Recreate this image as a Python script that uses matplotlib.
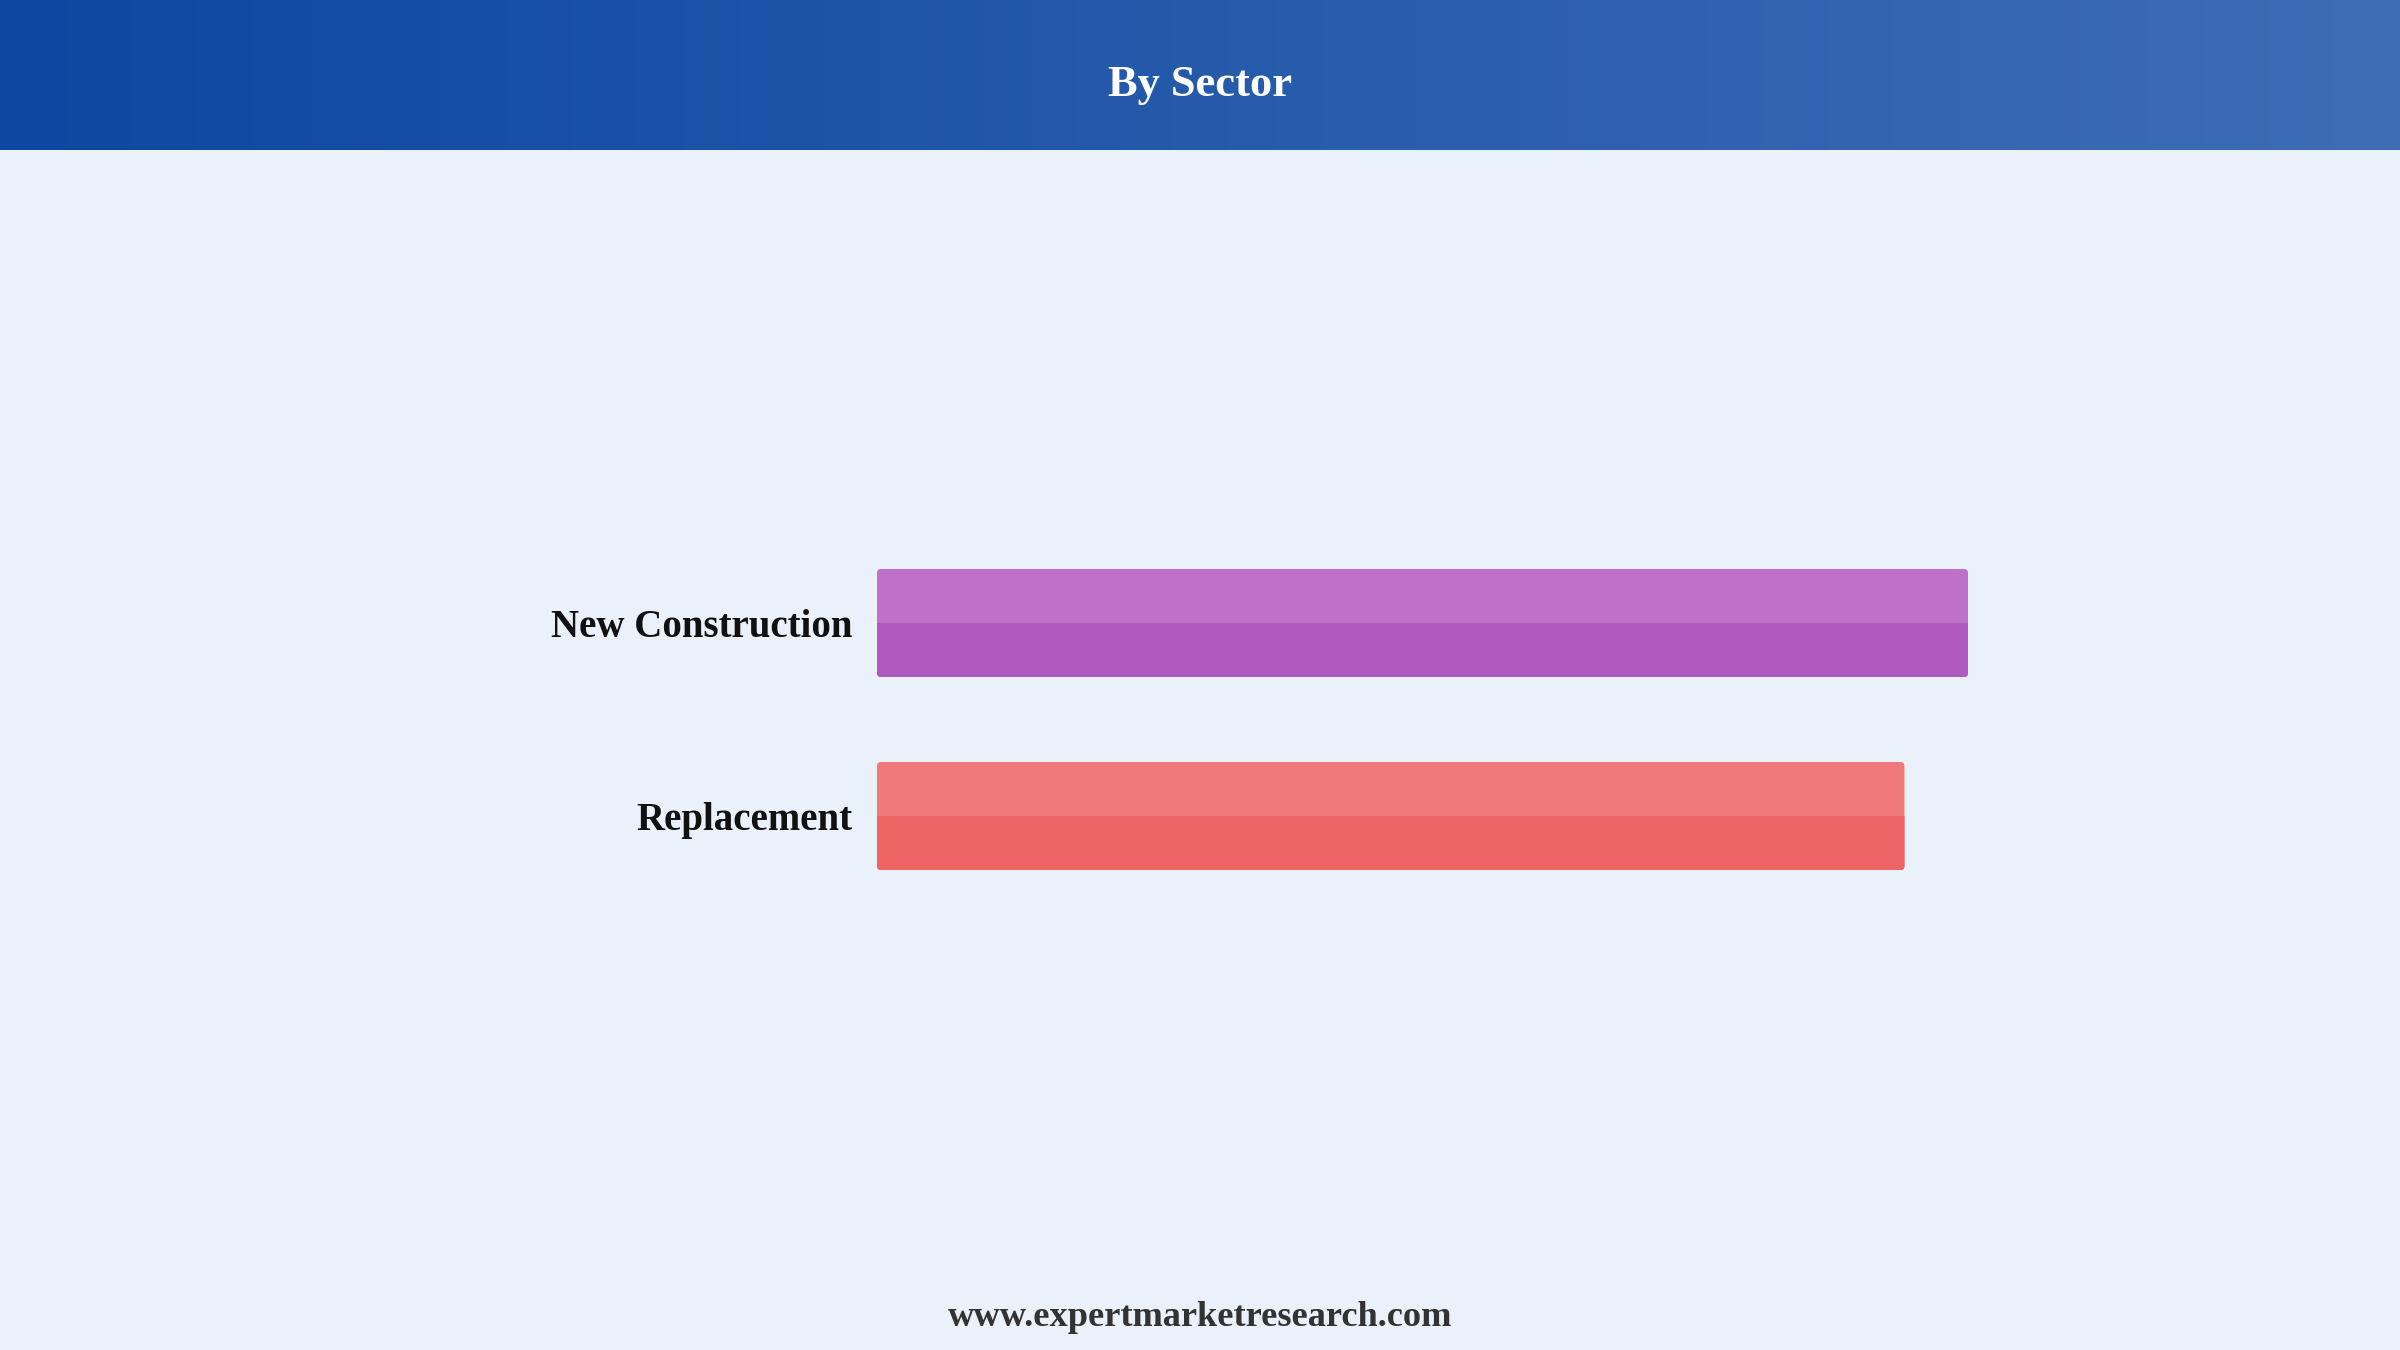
import numpy as np
import matplotlib
matplotlib.use("Agg")
import matplotlib.pyplot as plt
from matplotlib.patches import FancyBboxPatch, Rectangle
from matplotlib.colors import LinearSegmentedColormap

categories = ["New Construction", "Replacement"]
values = [51.5, 48.5]
top_colors = ["#BF70C9", "#F07A7A"]
bottom_colors = ["#B05ABF", "#EE6363"]
title = "By Sector"
footer = "www.expertmarketresearch.com"

W, H = 2400, 1350
fig = plt.figure(figsize=(24, 13.5), dpi=100)
bg = "#EAF1FB"
fig.patch.set_facecolor(bg)

# header gradient
hax = fig.add_axes([0, 1 - 150 / H, 1, 150 / H])
cmap = LinearSegmentedColormap.from_list("hdr", ["#0D47A1", "#3E6DB5"])
grad = np.linspace(0, 1, 512).reshape(1, -1)
hax.imshow(grad, aspect="auto", cmap=cmap, extent=[0, 1, 0, 1])
hax.set_axis_off()
fig.text(0.5, 1 - 85 / H, title, ha="center", va="center", color="white",
         fontsize=32, fontweight="bold", family="Liberation Serif")

# main axes
left_px, xmax = 877, 55.0
px_per_x = 1091 / 51.5
right_px = left_px + xmax * px_per_x
ax_top, ax_bot = 250, 1200
ax = fig.add_axes([left_px / W, 1 - ax_bot / H, (right_px - left_px) / W, (ax_bot - ax_top) / H])
ax.set_facecolor(bg)
spacing = 193.0
ax.set_xlim(0, xmax)
ax.set_ylim(0.5 + (ax_bot - 719.5) / spacing, 0.5 - (719.5 - ax_top) / spacing)
for s in ax.spines.values():
    s.set_visible(False)
ax.set_xticks([])
ax.set_yticks(range(len(categories)))
ax.set_yticklabels(categories, fontsize=28, fontweight="bold", family="Liberation Serif", color="#111111")
ax.tick_params(axis="y", length=0, pad=17.5)

bh = 108 / spacing
bars = ax.barh(range(len(categories)), values, height=bh, color="none", edgecolor="none")
x_per_px = 1 / px_per_x
y_per_px = 1 / spacing
r = 4 * x_per_px
asp = y_per_px / x_per_px
for rect, tc, bc in zip(bars.patches, top_colors, bottom_colors):
    x0, y0, w, h = rect.get_x(), rect.get_y(), rect.get_width(), rect.get_height()
    p1 = FancyBboxPatch((x0, y0), w, h, boxstyle=f"round,pad=0,rounding_size={r}",
                        mutation_aspect=asp, facecolor=tc, edgecolor="none")
    ax.add_patch(p1)
    p2 = FancyBboxPatch((x0, y0), w, h, boxstyle=f"round,pad=0,rounding_size={r}",
                        mutation_aspect=asp, facecolor=bc, edgecolor="none")
    ax.add_patch(p2)
    clip = Rectangle((x0 - 1, y0 + h / 2), w + 2, h, transform=ax.transData)
    p2.set_clip_path(clip)

fig.text(0.5, 1 - 1318 / H, footer, ha="center", va="center", color="#333333",
         fontsize=26.2, fontweight="bold", family="Liberation Serif")

fig.savefig("out.png", dpi=100, facecolor=bg)
